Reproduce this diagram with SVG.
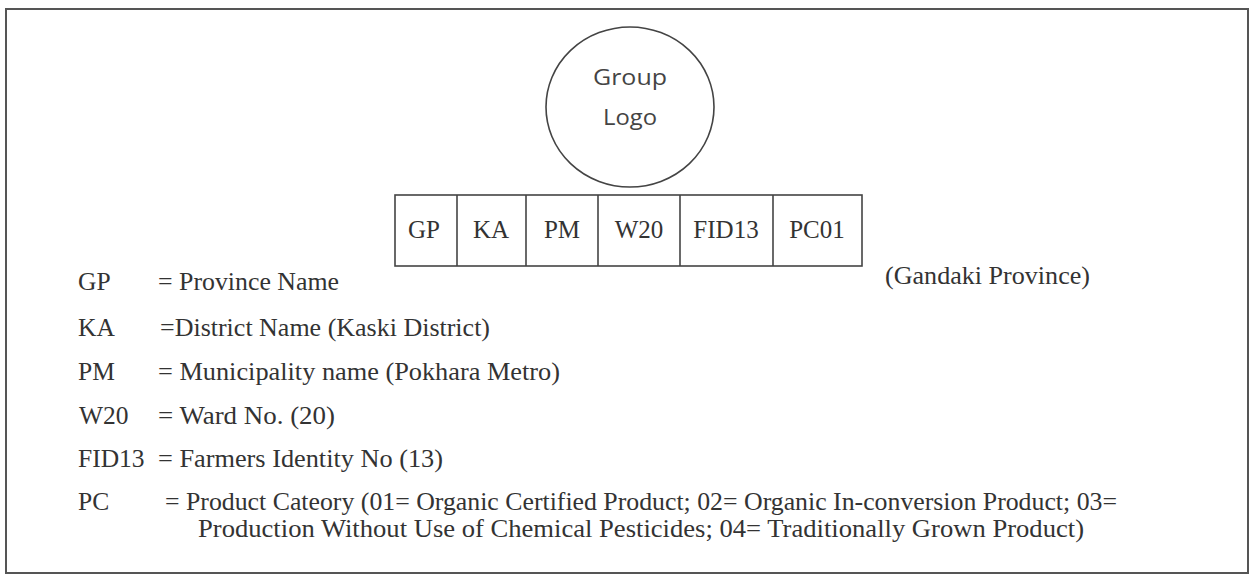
<svg xmlns="http://www.w3.org/2000/svg" width="1257" height="585" viewBox="0 0 1257 585">
<style>
.frame{fill:none;stroke:#555;stroke-width:2}
.ln{fill:none;stroke:#444;stroke-width:1.6}
.cell{font-family:"Liberation Serif",serif;font-size:25px;fill:#333;text-anchor:middle}
.logo{font-family:"Open Sans","Liberation Sans",sans-serif;font-size:22px;fill:#444;text-anchor:middle}
.lg{font-family:"Liberation Serif",serif;font-size:25.5px;fill:#333}
</style>
<rect width="1257" height="585" fill="#fff"/>
<rect class="frame" x="6" y="9" width="1242" height="564"/>
<g id="logo">
<ellipse class="ln" cx="630" cy="107" rx="84" ry="80"/>
<text class="logo" x="630" y="85" textLength="74" lengthAdjust="spacingAndGlyphs">Group</text>
<text class="logo" x="630" y="125" textLength="54" lengthAdjust="spacingAndGlyphs">Logo</text>
</g>
<g id="code">
<rect class="ln" x="395" y="195" width="467" height="71"/>
<line class="ln" x1="457" y1="195" x2="457" y2="266"/>
<line class="ln" x1="526" y1="195" x2="526" y2="266"/>
<line class="ln" x1="598" y1="195" x2="598" y2="266"/>
<line class="ln" x1="680" y1="195" x2="680" y2="266"/>
<line class="ln" x1="773" y1="195" x2="773" y2="266"/>
<text class="cell" x="424" y="238">GP</text>
<text class="cell" x="491" y="238">KA</text>
<text class="cell" x="562" y="238">PM</text>
<text class="cell" x="639" y="238">W20</text>
<text class="cell" x="726" y="238">FID13</text>
<text class="cell" x="817" y="238">PC01</text>
</g>
<g id="legend">
<text class="lg" x="78" y="290">GP</text>
<text class="lg" x="158" y="290" textLength="181" lengthAdjust="spacingAndGlyphs">= Province Name</text>
<text class="lg" x="885" y="284" textLength="205" lengthAdjust="spacingAndGlyphs">(Gandaki Province)</text>
<text class="lg" x="78" y="336">KA</text>
<text class="lg" x="160" y="336" textLength="330" lengthAdjust="spacingAndGlyphs">=District Name (Kaski District)</text>
<text class="lg" x="78" y="380">PM</text>
<text class="lg" x="158" y="380" textLength="402" lengthAdjust="spacingAndGlyphs">= Municipality name (Pokhara Metro)</text>
<text class="lg" x="79" y="424">W20</text>
<text class="lg" x="158" y="424" textLength="177" lengthAdjust="spacingAndGlyphs">= Ward No. (20)</text>
<text class="lg" x="78" y="467">FID13</text>
<text class="lg" x="158" y="467" textLength="285" lengthAdjust="spacingAndGlyphs">= Farmers Identity No (13)</text>
<text class="lg" x="78" y="510">PC</text>
<text class="lg" x="165" y="510" textLength="952" lengthAdjust="spacingAndGlyphs">= Product Cateory (01= Organic Certified Product; 02= Organic In-conversion Product; 03=</text>
<text class="lg" x="198" y="537" textLength="886" lengthAdjust="spacingAndGlyphs">Production Without Use of Chemical Pesticides; 04= Traditionally Grown Product)</text>
</g>
</svg>
